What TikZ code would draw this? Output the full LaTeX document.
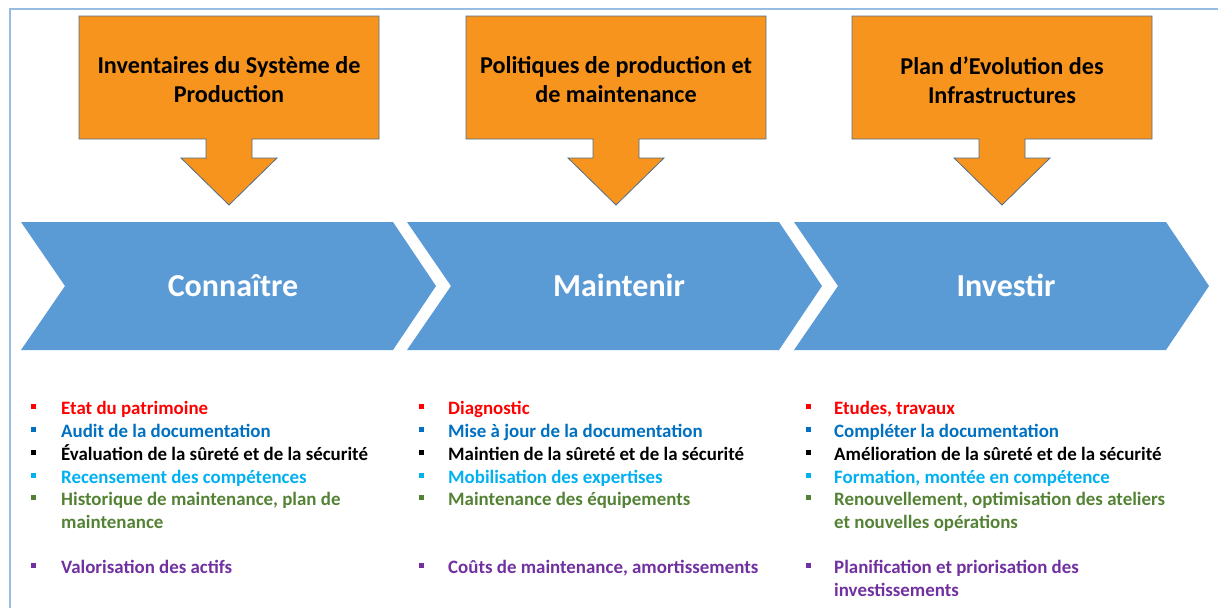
\documentclass[tikz,border=0pt]{standalone}
\usepackage{fontspec}
\setmainfont{Carlito}
\definecolor{chevblue}{RGB}{91,155,213}
\definecolor{callorange}{RGB}{247,148,30}
\definecolor{callline}{RGB}{80,110,140}
\definecolor{framebl}{RGB}{150,188,228}
\definecolor{itred}{RGB}{255,0,0}
\definecolor{itblue}{RGB}{0,112,192}
\definecolor{itcyan}{RGB}{0,176,240}
\definecolor{itgreen}{RGB}{84,130,53}
\definecolor{itpurple}{RGB}{112,48,160}
\tikzset{
  callout/.style={fill=callorange,draw=callline,line width=0.8pt},
  chevron/.style={fill=chevblue},
  calltext/.style={align=center,font=\fontsize{24.2}{29}\selectfont\bfseries},
  chevtext/.style={anchor=base,text=white,font=\fontsize{32}{38}\selectfont\bfseries},
  item/.style={anchor=base west,inner sep=0pt,font=\fontsize{18.9}{23}\selectfont\bfseries},
  sq/.style={minimum size=5pt,inner sep=0pt,fill}
}
\begin{document}
\begin{tikzpicture}[x=1pt,y=-1pt]
\useasboundingbox (0,0) rectangle (1218,608);
% frame
\draw[framebl,line width=1.8pt] (10,608) -- (10,9) -- (1218,9);
% down arrow callouts
\foreach \cx/\nm/\txt in {229/inv/{Inventaires du Système de\\Production},
  616/pol/{Politiques de production et\\de maintenance},
  1002/pev/{Plan d’Evolution des\\Infrastructures}}{
  \draw[callout] (\cx-150,16) -- (\cx+150,16) -- (\cx+150,139) -- (\cx+23,139)
    -- (\cx+23,158) -- (\cx+48,158) -- (\cx,205) -- (\cx-48,158) -- (\cx-23,158)
    -- (\cx-23,139) -- (\cx-150,139) -- cycle;
  \node[calltext] (\nm) at (\cx,80) {\txt};
}
% chevrons
\foreach \x/\nm/\txt in {21/con/Connaître, 407/mai/Maintenir, 794/ves/Investir}{
  \fill[chevron] (\x,222) -- (\x+372,222) -- (\x+415,286) -- (\x+372,350)
    -- (\x,350) -- (\x+44,286) -- cycle;
  \node[chevtext] (\nm) at (\x+212,296) {\txt};
}
% lists
\foreach \y/\c/\t [count=\i] in {408/itred/Etat du patrimoine,
  431/itblue/Audit de la documentation,
  454/black/Évaluation de la sûreté et de la sécurité,
  477/itcyan/Recensement des compétences,
  499/itgreen/{Historique de maintenance, plan de},
  567/itpurple/Valorisation des actifs}{
  \node[sq,\c] (ka\i) at (33,\y-2) {};
  \node[item,text=\c] (la\i) at (61,\y+6) {\t};
}
\node[item,text=itgreen] (la5b) at (61,528) {maintenance};
\foreach \y/\c/\t [count=\i] in {408/itred/Diagnostic,
  431/itblue/Mise à jour de la documentation,
  454/black/Maintien de la sûreté et de la sécurité,
  477/itcyan/Mobilisation des expertises,
  499/itgreen/Maintenance des équipements,
  567/itpurple/{Coûts de maintenance, amortissements}}{
  \node[sq,\c] (kb\i) at (421,\y-2) {};
  \node[item,text=\c] (lb\i) at (448,\y+6) {\t};
}
\foreach \y/\c/\t [count=\i] in {408/itred/{Etudes, travaux},
  431/itblue/Compléter la documentation,
  454/black/Amélioration de la sûreté et de la sécurité,
  477/itcyan/{Formation, montée en compétence},
  499/itgreen/{Renouvellement, optimisation des ateliers},
  567/itpurple/Planification et priorisation des}{
  \node[sq,\c] (kc\i) at (808,\y-2) {};
  \node[item,text=\c] (lc\i) at (834,\y+6) {\t};
}
\node[item,text=itgreen] (lc5b) at (834,528) {et nouvelles opérations};
\node[item,text=itpurple] (lc6b) at (834,596) {investissements};
\end{tikzpicture}
\end{document}
